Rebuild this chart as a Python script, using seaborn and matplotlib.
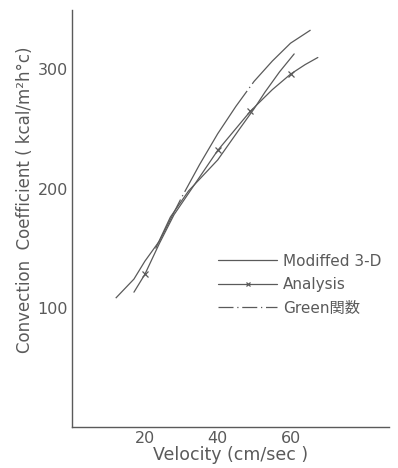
import matplotlib
matplotlib.use("Agg")
import matplotlib.pyplot as plt
from matplotlib.lines import Line2D
import seaborn as sns
import pandas as pd

# values
mod_v = [23, 27, 32, 40, 46, 50, 53, 57, 61]
mod_h = [150, 176, 198, 224, 250, 267, 281, 298, 313]

ana_v = [17, 20, 24, 28, 34, 40, 49, 55, 60, 64, 67.5]
ana_h = [113, 128, 154, 178, 205, 232, 265, 283, 296, 304, 310]
ana_marks = [1, 5, 6, 8]

grn_v = [12, 17, 20, 24, 30, 35, 40, 45, 50, 55, 60, 65.5]
grn_h = [108, 124, 139, 156, 192, 220, 246, 269, 290, 307, 322, 333]

labels = ["Modiffed 3-D", "Analysis", "Green関数"]

sns.set_theme(style="white")
plt.rcParams['font.family'] = ['DejaVu Sans', 'Noto Sans CJK JP']
ink = "#5a5a5a"

fig = plt.figure(figsize=(3.98, 4.68), dpi=100)
ax = fig.add_axes([0.181, 0.088, 0.796, 0.891])

sns.lineplot(x=mod_v, y=mod_h, sort=False, estimator=None, ax=ax,
             color=ink, lw=0.9)
sns.lineplot(x=ana_v, y=ana_h, sort=False, estimator=None, ax=ax,
             color=ink, lw=0.9, marker="x", markersize=4, markevery=ana_marks,
             markeredgecolor=ink, markeredgewidth=0.9)
g = sns.lineplot(x=grn_v, y=grn_h, sort=False, estimator=None, ax=ax,
                 color=ink, lw=0.9)
g.lines[-1].set_dashes((95, 3, 1, 3))

ax.set_xlim(0, 87)
ax.set_ylim(0, 350)
ax.set_xticks([20, 40, 60])
ax.set_yticks([100, 200, 300])
for s in ["top", "right"]:
    ax.spines[s].set_visible(False)
for s in ["left", "bottom"]:
    ax.spines[s].set_color(ink)
    ax.spines[s].set_linewidth(1.0)
ax.tick_params(direction="in", length=4, width=0.9, colors=ink,
               labelsize=11.5, pad=3)
ax.set_xlabel("Velocity (cm/sec )", fontsize=12.5, color=ink, labelpad=0)
ax.set_ylabel("Convection  Coefficient ( kcal/m²h°c)", fontsize=12,
              color=ink)
ax.yaxis.set_label_coords(-0.12, 0.545)

handles = [
    Line2D([], [], color=ink, lw=0.9),
    Line2D([], [], color=ink, lw=0.9, marker="x", markersize=3,
           markevery=[0], markeredgewidth=0.9),
    Line2D([], [], color=ink, lw=0.9, dashes=(12, 3, 1, 3)),
]
ax.legend(handles, labels, loc="upper left", bbox_to_anchor=(0.46, 0.415),
          frameon=False, fontsize=11, handlelength=3.9, handletextpad=0.35,
          labelspacing=0.55, labelcolor=ink, borderpad=0, borderaxespad=0)

fig.savefig("out.png", dpi=100)
